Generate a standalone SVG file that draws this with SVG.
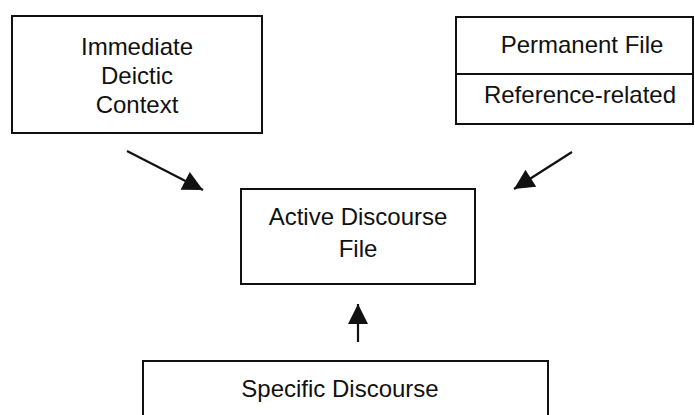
<svg xmlns="http://www.w3.org/2000/svg" width="695" height="415" viewBox="0 0 695 415">
  <style>
    .box { fill: #fff; stroke: #111; stroke-width: 2; }
    .lbl { font-family: "Liberation Sans", Arial, sans-serif; font-size: 24px; fill: #111; text-anchor: middle; }
    .edge { stroke: #111; stroke-width: 2.2; fill: none; marker-end: url(#head); }
  </style>
  <defs>
    <marker id="head" viewBox="0 0 10 10" refX="10" refY="5" markerUnits="userSpaceOnUse" markerWidth="22" markerHeight="20" orient="auto">
      <path d="M0,0 L10,5 L0,10 Z" fill="#111"/>
    </marker>
  </defs>
  <rect width="695" height="415" fill="#fff"/>

  <g id="immediate-deictic-context">
    <rect class="box" x="12" y="16" width="250" height="117"/>
    <text class="lbl" x="137" y="55">Immediate</text>
    <text class="lbl" x="137" y="84">Deictic</text>
    <text class="lbl" x="137" y="113">Context</text>
  </g>

  <g id="permanent-file">
    <rect class="box" x="456" y="17" width="237" height="107"/>
    <line x1="456" y1="74" x2="693" y2="74" stroke="#111" stroke-width="2"/>
    <text class="lbl" x="582" y="53">Permanent File</text>
    <text class="lbl" x="580" y="103">Reference-related</text>
  </g>

  <g id="active-discourse-file">
    <rect class="box" x="241" y="189" width="234" height="95"/>
    <text class="lbl" x="358" y="225">Active Discourse</text>
    <text class="lbl" x="358" y="257">File</text>
  </g>

  <g id="specific-discourse">
    <rect class="box" x="143" y="361" width="405" height="70"/>
    <text class="lbl" x="340" y="397">Specific Discourse</text>
  </g>

  <g id="connectors">
    <line class="edge" x1="127" y1="151" x2="203" y2="190"/>
    <line class="edge" x1="572" y1="152" x2="514" y2="189"/>
    <line class="edge" x1="358" y1="342" x2="358" y2="304"/>
  </g>
</svg>
